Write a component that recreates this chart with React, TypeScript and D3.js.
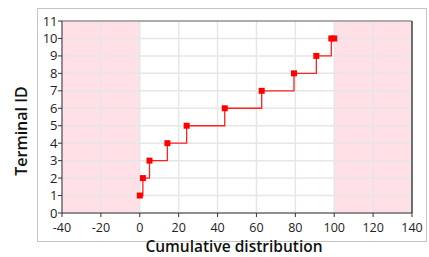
import React from "react";
import * as d3 from "d3";

const cumulative = [0, 1.6, 5, 14.2, 24.1, 43.7, 62.7, 79.3, 90.8, 98.5, 100];
const terminalId = [1, 2, 3, 4, 5, 6, 7, 8, 9, 10, 10];
const xTicks = [-40, -20, 0, 20, 40, 60, 80, 100, 120, 140];
const yTicks = [0, 1, 2, 3, 4, 5, 6, 7, 8, 9, 10, 11];
const shadedBands: [number, number][] = [[-40, 0], [100, 140]];

const W = 429, H = 257;
const L = 62, R = 412, T = 21, B = 213;

export default function App() {
  const x = d3.scaleLinear().domain([-40, 140]).range([L, R]);
  const y = d3.scaleLinear().domain([0, 11]).range([B, T]);
  const pts = cumulative.map((c, i) => [c, terminalId[i]] as [number, number]);
  const line = d3.line<[number, number]>().x(d => x(d[0])).y(d => y(d[1])).curve(d3.curveStepAfter);
  const font = "'Open Sans', 'Noto Sans', sans-serif";
  return (
    <svg width={W} height={H} style={{ position: "absolute", left: 0, top: 0, background: "#fff" }}>
      <rect x={37.5} y={8.5} width={389} height={233} fill="#fff" stroke="#c4c4c4" strokeWidth={1} />
      {shadedBands.map(([a, b], i) => (
        <rect key={i} x={x(a)} y={T} width={x(b) - x(a)} height={B - T} fill="#ffe0e6" />
      ))}
      {xTicks.map(t => (
        <line key={"gx" + t} x1={x(t)} x2={x(t)} y1={T} y2={B} stroke="#e6e6e6" strokeWidth={1.5} />
      ))}
      {yTicks.map(t => (
        <line key={"gy" + t} x1={L} x2={R} y1={y(t)} y2={y(t)} stroke="#e6e6e6" strokeWidth={1.5} />
      ))}
      <path d={line(pts) || ""} fill="none" stroke="#ff2020" strokeWidth={1.3} />
      {pts.map((p, i) => (
        <rect key={i} x={x(p[0]) - 3} y={y(p[1]) - 3} width={6} height={6} fill="#ff0000" />
      ))}
      <line x1={L} x2={R} y1={T} y2={T} stroke="#6e6e6e" strokeWidth={1.2} />
      <line x1={R} x2={R} y1={T} y2={B} stroke="#6e6e6e" strokeWidth={2} />
      <line x1={L} x2={L} y1={T} y2={B} stroke="#333" strokeWidth={1} />
      <line x1={L} x2={R} y1={B} y2={B} stroke="#333" strokeWidth={1} />
      {yTicks.map(t => (
        <g key={"ty" + t}>
          <line x1={L - 4} x2={L} y1={y(t)} y2={y(t)} stroke="#333" />
          <text x={L - 4.5} y={y(t)} dy="0.35em" textAnchor="end" fontFamily={font} fontSize={13} fill="#222">{t}</text>
        </g>
      ))}
      {xTicks.map(t => (
        <g key={"tx" + t}>
          <line x1={x(t)} x2={x(t)} y1={B} y2={B + 4} stroke="#333" />
          <text x={x(t)} y={232} textAnchor="middle" fontFamily={font} fontSize={12.5} fill="#222">{t}</text>
        </g>
      ))}
      <text x={234} y={252} textAnchor="middle" fontFamily={font} fontSize={15.5} fontWeight={600} fill="#111">Cumulative distribution</text>
      <text transform="translate(27,131) rotate(-90)" textAnchor="middle" fontFamily={font} fontSize={16} fontWeight={600} fill="#111">Terminal ID</text>
    </svg>
  );
}
